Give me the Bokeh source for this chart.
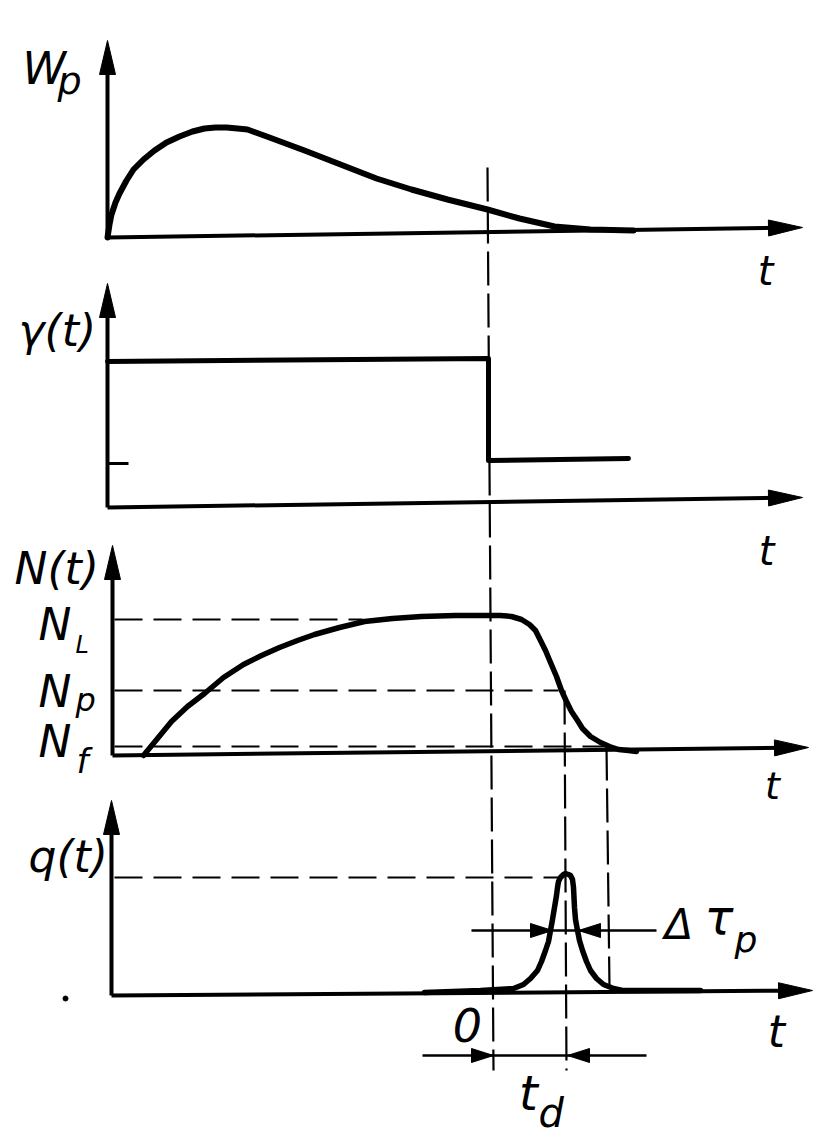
import math
from bokeh.plotting import figure
from bokeh.models import Range1d
from bokeh.core.properties import value
from bokeh.embed import file_html
from bokeh.resources import INLINE

# ---------------- data (page pixel coordinates) ----------------
# pump power W_p(t)
WP_T = [107, 109, 111, 115, 119, 126, 133, 143, 154, 166, 179, 192, 204, 215, 226, 237,
        247, 258, 269, 304, 340, 376, 411, 447, 487, 519, 554, 590, 633]
WP_Y = [237, 224, 214, 202, 193, 180, 169, 159, 150, 142, 136, 131, 128, 127, 127, 128,
        129, 133, 137, 150, 164, 178, 189, 199, 209, 218, 226, 229, 230]

# loss gamma(t): step
GAMMA_T = [107, 488, 488, 628]
GAMMA_Y = [361, 358, 460, 458]
GAMMA_TICK_T = [107, 128]
GAMMA_TICK_Y = [463, 463]

# inversion N(t)
N_T = [143, 157, 171, 187, 204, 223, 243, 261, 279, 297, 314, 339, 364, 392, 421, 455,
       489, 500, 511, 521, 529, 535, 539, 545, 550, 556, 561, 566, 571, 577, 582, 590,
       600, 609, 618, 628, 636]
N_Y = [755, 738, 721, 706, 693, 677, 664, 655, 647, 640, 634, 627, 621, 618, 616, 615,
       615, 615, 616, 619, 624, 630, 638, 650, 662, 676, 690, 701, 711, 720, 728, 736,
       742, 746, 749, 750, 751]

# photon number q(t)
Q_T = [424, 480, 513, 523, 530, 537, 541, 545, 548, 550, 552, 554, 556, 557, 558, 560,
       563, 565, 568, 570, 572, 573, 574, 575, 577, 579, 582, 586, 590, 596, 603, 613,
       622, 700]
Q_Y = [992, 990, 988, 984, 978, 970, 961, 950, 941, 930, 919, 907, 895, 887, 881, 877,
       874, 873, 874, 875, 879, 887, 907, 919, 930, 940, 950, 961, 970, 978, 984, 988,
       990, 990]

# axes: origin, y-arrow tip, x-arrow tip (four panels)
AX_ORIGIN_X = [107, 107, 112, 111]
AX_ORIGIN_Y = [237, 507, 755, 995]
YTIP_X = [107, 107, 112, 111]
YTIP_Y = [40, 283, 545, 800]
XTIP_X = [802, 802, 808, 812]
XTIP_Y = [227, 497, 747, 990]

# dashed reference levels (N_L, N_p, N_f, q peak)
LEVEL_X0 = [114, 114, 114, 114]
LEVEL_X1 = [362, 558, 606, 558]
LEVEL_Y = [619, 690, 746, 877]

# dashed vertical markers (switch time, peak, end of pulse)
VLINE_X0 = [487, 564, 606]
VLINE_Y0 = [167, 690, 746]
VLINE_X1 = [493, 566, 609]
VLINE_Y1 = [1070, 1070, 987]

# dimension arrows (delta tau_p, t_d)
DIM_Y = [930, 1055]
DIM_X0 = [471, 422]
DIM_X1 = [656, 646]
DIM_TIP_R = [552, 493]
DIM_TIP_L = [578, 567]

# labels: text, x, y(baseline), font size px, align
LABELS = [
    ("W", 22, 84, 44, "left"), ("p", 57, 95, 38, "left"),
    ("t", 765, 285, 40, "center"),
    ("γ(t)", 18, 346, 44, "left"),
    ("t", 766, 565, 40, "center"),
    ("N(t)", 14, 584, 44, "left"),
    ("N", 38, 640, 44, "left"), ("L", 75, 653, 24, "left"),
    ("N", 38, 707, 44, "left"), ("p", 75, 711, 32, "left"),
    ("N", 38, 757, 44, "left"), ("f", 76, 773, 34, "left"),
    ("t", 772, 800, 38, "center"),
    ("q(t)", 28, 872, 44, "left"),
    ("Δ", 664, 940, 42, "left"), ("τ", 704, 934, 48, "left"), ("p", 734, 952, 36, "left"),
    ("0", 467, 1042, 46, "center"),
    ("t", 776, 1047, 44, "center"),
    ("t", 528, 1110, 48, "center"), ("d", 538, 1127, 40, "left"),
]
DOT_X = [65]
DOT_Y = [998]

# ---------------- figure ----------------
W, H = 834, 1140
p = figure(width=W, height=H, x_range=Range1d(0, W), y_range=Range1d(H, 0),
           x_axis_type=None, y_axis_type=None, toolbar_location=None,
           output_backend="svg", min_border=0, outline_line_color=None,
           background_fill_color="white", border_fill_color="white")

INK = "black"
BASELINE_SHIFT = 0.37  # em; the svg text sits this much lower than the alphabetic anchor


def head(tx, ty, fx, fy, length, half):
    dx, dy = tx - fx, ty - fy
    n = math.hypot(dx, dy)
    ux, uy = dx / n, dy / n
    bx, by = tx - ux * length, ty - uy * length
    px, py = -uy, ux
    return [tx, bx + px * half, bx - px * half], [ty, by + py * half, by - py * half]


# axes with arrow heads
hx, hy = [], []
for i in range(4):
    ox, oy = AX_ORIGIN_X[i], AX_ORIGIN_Y[i]
    for tx, ty in ((YTIP_X[i], YTIP_Y[i]), (XTIP_X[i], XTIP_Y[i])):
        n = math.hypot(tx - ox, ty - oy)
        ex = tx - (tx - ox) / n * 20
        ey = ty - (ty - oy) / n * 20
        p.line([ox, ex], [oy, ey], line_color=INK, line_width=4)
        a, b = head(tx, ty, ox, oy, 34, 8)
        hx.append(a)
        hy.append(b)
p.patches(hx, hy, fill_color=INK, line_color=INK, line_width=1)

# dashed lines
for x0, x1, y in zip(LEVEL_X0, LEVEL_X1, LEVEL_Y):
    p.line([x0, x1], [y, y], line_color=INK, line_width=2.2, line_dash="28 11")
for x0, y0, x1, y1 in zip(VLINE_X0, VLINE_Y0, VLINE_X1, VLINE_Y1):
    p.line([x0, x1], [y0, y1], line_color=INK, line_width=2.2, line_dash="34 8")

# curves
p.line(WP_T, WP_Y, line_color=INK, line_width=6, line_join="round", line_cap="round")
p.line(GAMMA_T, GAMMA_Y, line_color=INK, line_width=5, line_join="round", line_cap="round")
p.line(GAMMA_TICK_T, GAMMA_TICK_Y, line_color=INK, line_width=3)
p.line(N_T, N_Y, line_color=INK, line_width=5.5, line_join="round", line_cap="round")
p.line(Q_T, Q_Y, line_color=INK, line_width=5.5, line_join="round", line_cap="round")

# dimension arrows
dx_, dy_ = [], []
for i in range(2):
    y = DIM_Y[i]
    p.line([DIM_X0[i], DIM_X1[i]], [y, y], line_color=INK, line_width=2.5)
    a, b = head(DIM_TIP_R[i], y, DIM_X0[i], y, 22, 7)
    dx_.append(a); dy_.append(b)
    a, b = head(DIM_TIP_L[i], y, DIM_X1[i], y, 22, 7)
    dx_.append(a); dy_.append(b)
p.patches(dx_, dy_, fill_color=INK, line_color=INK, line_width=1)

p.scatter(DOT_X, DOT_Y, size=5, color=INK)

# labels
for txt, x, y, size, align in LABELS:
    p.text(x=[x], y=[y - BASELINE_SHIFT * size], text=[txt], text_font=value("DejaVu Sans"),
           text_font_style="italic", text_font_size=value(f"{size}px"),
           text_align=align, text_baseline="alphabetic", text_color=INK)

open("out.html", "w").write(file_html(p, INLINE))
